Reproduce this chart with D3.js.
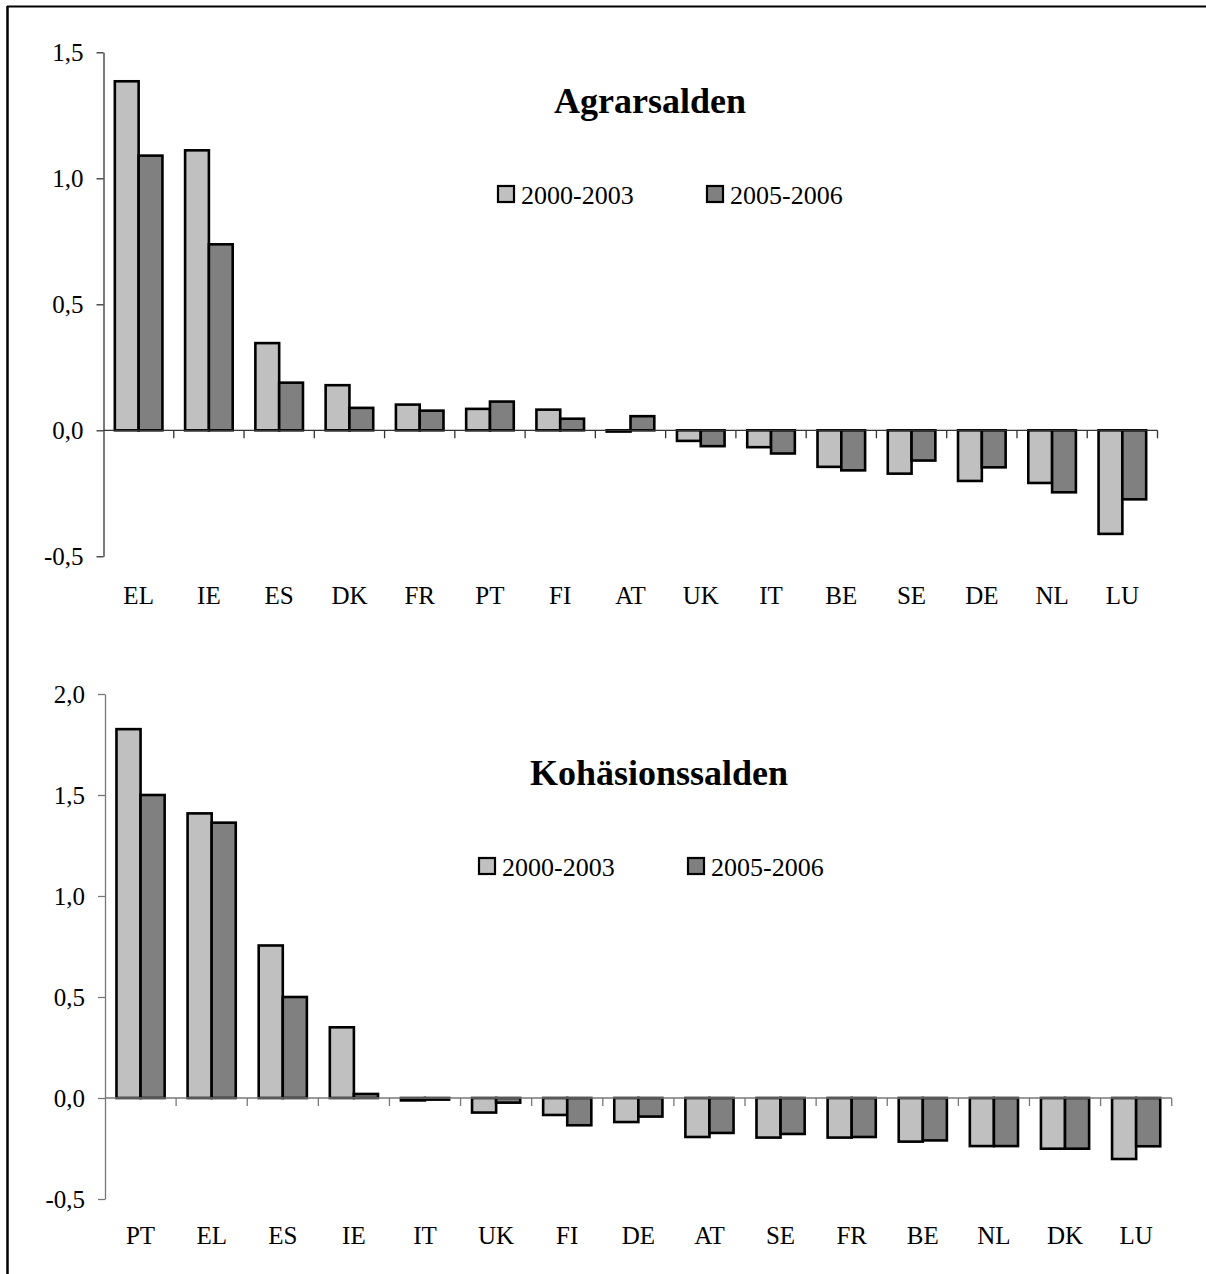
<!DOCTYPE html>
<html>
<head>
<meta charset="utf-8">
<script src="https://cdn.jsdelivr.net/npm/d3@7"></script>
<style>
  html, body { margin: 0; padding: 0; background: #fff; }
  svg { display: block; }
  text { font-family: "Liberation Serif", "Times New Roman", serif; fill: #000; }
</style>
</head>
<body>
<svg id="chart" width="1206" height="1274"></svg>
<script>
// ---------- DATA ----------
const seriesNames = ["2000-2003", "2005-2006"];

const agrarCategories = ["EL", "IE", "ES", "DK", "FR", "PT", "FI", "AT", "UK", "IT", "BE", "SE", "DE", "NL", "LU"];
const agrar2000_2003 = [1.385, 1.111, 0.346, 0.179, 0.102, 0.085, 0.082, -0.005, -0.042, -0.067, -0.145, -0.172, -0.201, -0.209, -0.411];
const agrar2005_2006 = [1.090, 0.738, 0.189, 0.089, 0.078, 0.114, 0.046, 0.056, -0.063, -0.092, -0.159, -0.120, -0.147, -0.246, -0.274];
const agrarTicks = [-0.5, 0.0, 0.5, 1.0, 1.5];

const kohCategories = ["PT", "EL", "ES", "IE", "IT", "UK", "FI", "DE", "AT", "SE", "FR", "BE", "NL", "DK", "LU"];
const koh2000_2003 = [1.826, 1.409, 0.755, 0.350, -0.012, -0.072, -0.084, -0.119, -0.193, -0.196, -0.196, -0.216, -0.238, -0.251, -0.302];
const koh2005_2006 = [1.500, 1.363, 0.500, 0.020, -0.008, -0.023, -0.135, -0.092, -0.173, -0.178, -0.193, -0.210, -0.238, -0.251, -0.239];
const kohTicks = [-0.5, 0.0, 0.5, 1.0, 1.5, 2.0];

const colors = ["#C0C0C0", "#808080"];

// ---------- DRAW ----------
const svg = d3.select("#chart");

// frame (top + left edges of the cropped border)
svg.append("line").attr("x1", 7).attr("x2", 1206).attr("y1", 6.5).attr("y2", 6.5)
  .attr("stroke", "#000").attr("stroke-width", 2);
svg.append("line").attr("x1", 7.5).attr("x2", 7.5).attr("y1", 6).attr("y2", 1274)
  .attr("stroke", "#000").attr("stroke-width", 2.5);

const fmt = d => d3.format(".1f")(d).replace(".", ",").replace("\u2212", "-");

function drawPanel(cfg) {
  const g = svg.append("g");
  const x0 = d3.scaleBand().domain(cfg.categories).range([cfg.left, cfg.right])
    .paddingInner(0.3226).paddingOuter(0.1613);
  const x1 = d3.scaleBand().domain(seriesNames).range([0, x0.bandwidth()]).padding(0);
  const y = d3.scaleLinear().domain([cfg.ticks[0], cfg.ticks[cfg.ticks.length - 1]])
    .range([cfg.yBottom, cfg.yTop]);
  const step = x0.step();

  // y axis
  const yAxis = d3.axisLeft(y).tickValues(cfg.ticks).tickFormat(fmt)
    .tickSize(7).tickSizeOuter(0).tickPadding(13);
  const ya = g.append("g").attr("transform", `translate(${cfg.left},0)`).call(yAxis);
  ya.select(".domain").attr("stroke", cfg.axisColor).attr("stroke-width", 1.3);
  ya.selectAll(".tick line").attr("stroke", cfg.axisColor).attr("stroke-width", 1.3);
  ya.selectAll(".tick text").attr("font-size", 25).attr("fill", "#000")
    .attr("font-family", "'Liberation Serif', 'Times New Roman', serif");

  // bars
  const data = cfg.categories.map((c, i) => ({ c, vals: [cfg.s1[i], cfg.s2[i]] }));
  const groups = g.selectAll("g.grp").data(data).enter().append("g")
    .attr("transform", d => `translate(${x0(d.c)},0)`);
  groups.selectAll("rect").data(d => d.vals.map((v, k) => ({ v, k }))).enter().append("rect")
    .attr("x", d => x1(seriesNames[d.k]))
    .attr("width", x1.bandwidth())
    .attr("y", d => y(Math.max(0, d.v)))
    .attr("height", d => Math.max(1, Math.abs(y(d.v) - y(0))))
    .attr("fill", d => colors[d.k])
    .attr("stroke", "#000").attr("stroke-width", 2.6);

  // x axis line at zero with ticks at band boundaries
  const y0 = y(0);
  g.append("line").attr("x1", cfg.left).attr("x2", cfg.right)
    .attr("y1", y0).attr("y2", y0).attr("stroke", cfg.axisColor).attr("stroke-width", 1.3);
  const bounds = cfg.categories.map((c, i) => cfg.left + (i + 1) * step);
  g.selectAll("line.xt").data(bounds).enter().append("line")
    .attr("x1", d => d).attr("x2", d => d)
    .attr("y1", y0).attr("y2", y0 + 8)
    .attr("stroke", cfg.axisColor).attr("stroke-width", 1.3);

  // category labels
  g.selectAll("text.cat").data(cfg.categories).enter().append("text")
    .attr("x", d => x0(d) + x0.bandwidth() / 2)
    .attr("y", cfg.labelY)
    .attr("text-anchor", "middle").attr("font-size", 25)
    .text(d => d);

  // title
  g.append("text").attr("x", cfg.titleX).attr("y", cfg.titleY)
    .attr("text-anchor", "middle").attr("font-size", 36).attr("font-weight", "bold")
    .text(cfg.title);

  // legend
  cfg.legend.forEach((lx, k) => {
    g.append("rect").attr("x", lx).attr("y", cfg.legendY).attr("width", 16).attr("height", 16)
      .attr("fill", colors[k]).attr("stroke", "#000").attr("stroke-width", 2.2);
    g.append("text").attr("x", lx + 23).attr("y", cfg.legendY + 18)
      .attr("font-size", 26).text(seriesNames[k]);
  });
}

drawPanel({
  categories: agrarCategories, s1: agrar2000_2003, s2: agrar2005_2006, ticks: agrarTicks,
  left: 103.5, right: 1157.5, yTop: 52.3, yBottom: 556.3, labelY: 604,
  axisColor: "#333",
  title: "Agrarsalden", titleX: 650, titleY: 113,
  legend: [498, 707], legendY: 186
});

drawPanel({
  categories: kohCategories, s1: koh2000_2003, s2: koh2005_2006, ticks: kohTicks,
  left: 105, right: 1171.7, yTop: 694, yBottom: 1199, labelY: 1244,
  axisColor: "#777",
  title: "Kohäsionssalden", titleX: 659, titleY: 785,
  legend: [479, 688], legendY: 858
});
</script>
</body>
</html>
